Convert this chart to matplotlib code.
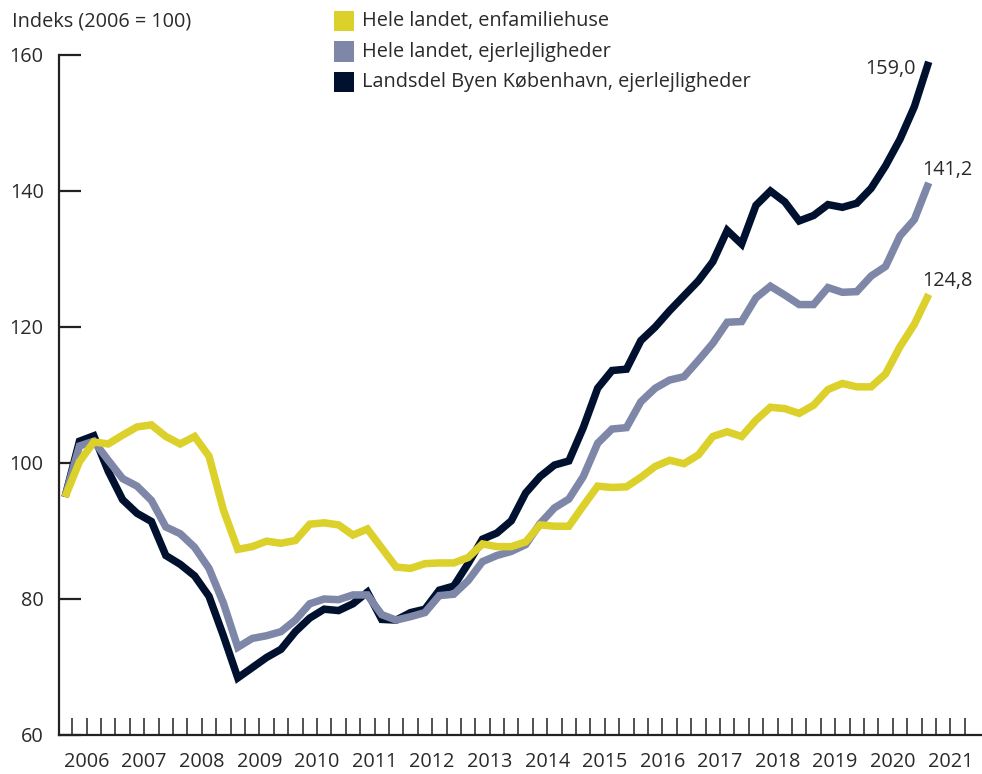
import numpy as np
import matplotlib
matplotlib.use("Agg")
import matplotlib.pyplot as plt
from matplotlib.patches import Rectangle

plt.rcParams['font.family'] = ['Open Sans', 'DejaVu Sans']

# ---- data (quarterly, 2006Q1 - 2021Q1) ----
years = list(range(2006, 2022))
series_names = ["Hele landet, enfamiliehuse",
                "Hele landet, ejerlejligheder",
                "Landsdel Byen København, ejerlejligheder"]
enfamiliehuse = [95.0, 100.2, 103.1, 102.8, 104.1, 105.3, 105.6, 103.9, 102.8, 103.9,
                 101.0, 93.1, 87.3, 87.7, 88.5, 88.2, 88.6, 91.0, 91.2, 90.9,
                 89.4, 90.3, 87.5, 84.7, 84.5, 85.2, 85.3, 85.3, 86.1, 88.1,
                 87.7, 87.7, 88.4, 90.9, 90.7, 90.7, 93.7, 96.6, 96.4, 96.5,
                 97.9, 99.5, 100.4, 99.9, 101.2, 103.9, 104.6, 103.9, 106.3, 108.2,
                 108.0, 107.3, 108.5, 110.8, 111.7, 111.2, 111.2, 113.1, 117.1, 120.4,
                 124.8]
ejerlej_land = [95.0, 102.5, 103.2, 100.4, 97.7, 96.6, 94.5, 90.6, 89.6, 87.6,
                84.5, 79.4, 72.9, 74.2, 74.6, 75.2, 76.9, 79.3, 80.0, 79.9,
                80.6, 80.6, 77.7, 76.9, 77.4, 78.0, 80.5, 80.7, 82.7, 85.5,
                86.4, 87.0, 88.0, 91.1, 93.4, 94.7, 98.0, 102.9, 105.0, 105.2,
                109.0, 111.0, 112.2, 112.7, 115.1, 117.6, 120.7, 120.8, 124.3, 126.0,
                124.7, 123.3, 123.3, 125.8, 125.1, 125.2, 127.5, 128.9, 133.4, 135.8,
                141.2]
ejerlej_kbh = [95.0, 103.2, 104.0, 98.8, 94.6, 92.6, 91.4, 86.4, 85.1, 83.4,
               80.4, 74.6, 68.4, 69.9, 71.4, 72.6, 75.2, 77.2, 78.5, 78.3,
               79.3, 81.0, 77.0, 76.9, 78.0, 78.5, 81.3, 81.9, 85.2, 88.8,
               89.7, 91.5, 95.6, 98.0, 99.7, 100.3, 105.2, 111.0, 113.6, 113.8,
               118.0, 120.0, 122.4, 124.6, 126.8, 129.6, 134.2, 132.2, 137.9, 140.0,
               138.4, 135.6, 136.4, 138.0, 137.6, 138.2, 140.4, 143.7, 147.6, 152.4,
               159.0]
end_labels = ["124,8", "141,2", "159,0"]
y_ticks = [60, 80, 100, 120, 140, 160]

colors = ["#DCD02A", "#7E87A7", "#00102F"]
text_color = "#2a2a2a"
FS = 14.3

W, H = 982, 774
fig = plt.figure(figsize=(W / 100, H / 100), dpi=100)
ax = fig.add_axes([59 / W, (H - 735) / H, (W - 59) / W, (735 - 55) / H])

x = np.arange(len(enfamiliehuse))
data = [enfamiliehuse, ejerlej_land, ejerlej_kbh]
zorders = [5, 4, 3]
for vals, c, z in zip(data, colors, zorders):
    ax.plot(x, vals, color=c, lw=5.4, solid_joinstyle='miter', solid_capstyle='butt', zorder=z)

ax.set_ylim(60, 160)
ax.set_xlim(-0.42, 63.7)

for s in ['top', 'right']:
    ax.spines[s].set_visible(False)
for s in ['left', 'bottom']:
    ax.spines[s].set_linewidth(1.6)
    ax.spines[s].set_color("#222222")

ax.set_yticks(y_ticks)
ax.set_yticklabels([str(v) for v in y_ticks])
ax.tick_params(axis='y', direction='in', length=16, width=1.6, color="#222222",
               pad=11, labelsize=FS, labelcolor=text_color)

# quarter tick marks
ax.xaxis.remove_overlapping_locs = False
ax.set_xticks(np.arange(0.5, 63, 1.0))
ax.set_xticklabels([])
ax.tick_params(axis='x', which='major', direction='in', length=12, width=1.1, color="#222222")
# year labels
ax.set_xticks([4 * k + 1.5 for k in range(len(years))], minor=True)
ax.set_xticklabels([str(y) for y in years], minor=True)
ax.tick_params(axis='x', which='minor', length=0, pad=12, labelsize=FS, labelcolor=text_color)

# end labels
ax.annotate(end_labels[2], (x[-1], ejerlej_kbh[-1]), xytext=(-9.5, -5), textcoords='offset points',
            ha='right', va='center', fontsize=FS, color=text_color)
ax.annotate(end_labels[1], (x[-1], ejerlej_land[-1]), xytext=(-4.5, 9.5), textcoords='offset points',
            ha='left', va='center', fontsize=FS, color=text_color)
ax.annotate(end_labels[0], (x[-1], enfamiliehuse[-1]), xytext=(-4.5, 9.5), textcoords='offset points',
            ha='left', va='center', fontsize=FS, color=text_color)

# axis title
fig.text(12 / W, 1 - 22 / H, "Indeks (2006 = 100)", ha='left', va='center',
         fontsize=FS, color=text_color)

# legend
for k, (name, c) in enumerate(zip(series_names, colors)):
    yc = 21 + 30.5 * k
    fig.patches.append(Rectangle((334 / W, 1 - (yc + 10) / H), 20 / W, 20 / H,
                                 transform=fig.transFigure, facecolor=c, edgecolor='none'))
    fig.text(362 / W, 1 - yc / H, name, ha='left', va='center', fontsize=FS, color=text_color)

fig.savefig("out.png", dpi=100)
